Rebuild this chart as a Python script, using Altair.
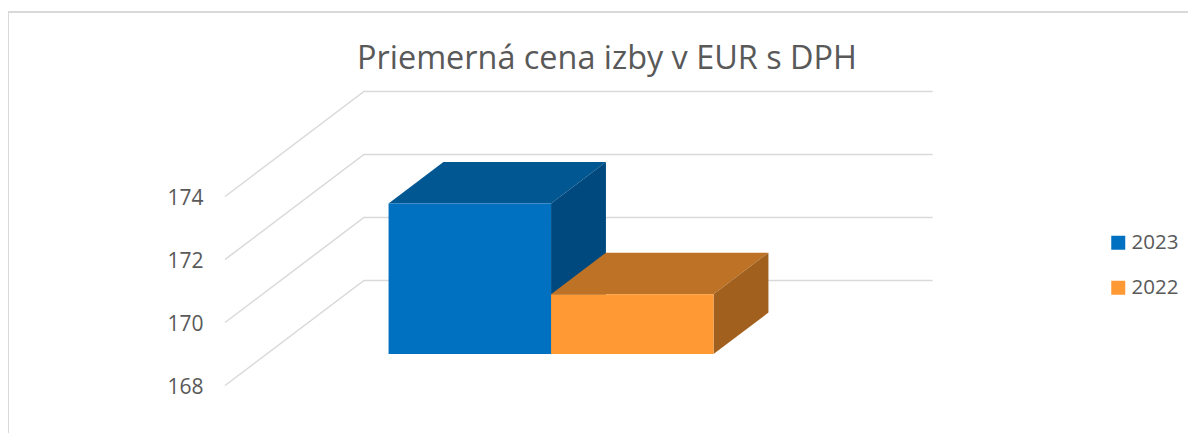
import altair as alt
import pandas as pd

title = "Priemerná cena izby v EUR s DPH"
series = ["2023", "2022"]
values = [172.78, 169.9]
front_colors = ["#0070C0", "#FF9933"]
top_colors = ["#005792", "#BE7225"]
side_colors = ["#00497E", "#A1601E"]
ticks = [168, 170, 172, 174]

# Oblique 3D geometry, in axis units
depth_dx = 0.855      # category units for the whole floor depth
depth_dy = 3.333      # value units for the whole floor depth
gap = 0.75            # gap before the first bar, in bar widths
bar_front = 0.3       # bar front, as a share of the floor depth
bar_back = 0.695      # bar back, as a share of the floor depth
floor_width = 3.5

FONT = "Open Sans"
TEXT = "#595959"
GRID = "#D9D9D9"

x_scale = alt.Scale(domain=[-0.11077, 4.35692], nice=False, zero=False)
y_scale = alt.Scale(domain=[168, 174], nice=False, zero=False)
y_axis = alt.Axis(
    values=ticks, domain=False, ticks=False, grid=False, title=None,
    labelPadding=4, labelFont=FONT, labelFontSize=21, labelColor=TEXT,
    labelOffset=1.5, format="d",
)
X = alt.X("x:Q", scale=x_scale, axis=None)
Y = alt.Y("y:Q", scale=y_scale, stack=None, axis=y_axis)

# Gridlines on the floor-side wall and the back wall
grid_rows = []
for t in ticks:
    grid_rows += [
        {"t": t, "i": 0, "x": 0, "y": t},
        {"t": t, "i": 1, "x": depth_dx, "y": t + depth_dy},
        {"t": t, "i": 2, "x": floor_width + depth_dx, "y": t + depth_dy},
    ]
layers = [
    alt.Chart(pd.DataFrame(grid_rows)).mark_line(color=GRID, strokeWidth=1.5).encode(
        x=X, y=Y, detail="t:N", order="i:Q"
    )
]

dx0 = bar_front * depth_dx
dy0 = bar_front * depth_dy
dx = (bar_back - bar_front) * depth_dx
dy = (bar_back - bar_front) * depth_dy
floor_y = 168 + dy0

for k, (name, value) in enumerate(zip(series, values)):
    left = gap + k + dx0
    right = left + 1
    top = value + dy0
    top_face = pd.DataFrame(
        [
            {"y": top, "x": left, "x2": right},
            {"y": top + dy, "x": left + dx, "x2": right + dx},
        ]
    )
    side_face = pd.DataFrame(
        [
            {"x": right, "y": floor_y, "y2": top},
            {"x": right + dx, "y": floor_y + dy, "y2": top + dy},
        ]
    )
    front_face = pd.DataFrame(
        [{"series": name, "x": left, "x2": right, "y": floor_y, "y2": top}]
    )
    layers.append(
        alt.Chart(top_face).mark_area(orient="horizontal", color=top_colors[k]).encode(
            y=Y, x=X, x2="x2:Q"
        )
    )
    layers.append(
        alt.Chart(side_face).mark_area(orient="vertical", color=side_colors[k]).encode(
            x=X, y=Y, y2="y2:Q"
        )
    )
    layers.append(
        alt.Chart(front_face).mark_rect().encode(
            x=X,
            x2="x2:Q",
            y=Y,
            y2="y2:Q",
            color=alt.Color(
                "series:N",
                scale=alt.Scale(domain=series, range=front_colors),
                legend=alt.Legend(
                    title=None, orient="none", legendX=901, legendY=36,
                    symbolType="square", symbolSize=196, symbolStrokeWidth=0,
                    labelFont=FONT, labelFontSize=20.5, labelColor=TEXT,
                    labelOffset=3, rowPadding=24, labelLimit=100,
                ),
            ),
        )
    )

# Chart-area border (left and top sides reach the picture's edge)
border_left = alt.Chart(pd.DataFrame({"a": [0]})).mark_rule(color=GRID, strokeWidth=2).encode(
    x=alt.value(-199), y=alt.value(-185), y2=alt.value(237)
)
border_top = alt.Chart(pd.DataFrame({"a": [0]})).mark_rule(color=GRID, strokeWidth=2).encode(
    x=alt.value(-199), x2=alt.value(981), y=alt.value(-184.5)
)

chart = (
    alt.layer(border_left, border_top, *layers)
    .resolve_scale(x="shared", y="shared", color="shared")
    .properties(
        width=726,
        height=189,
        autosize=alt.AutoSizeParams(type="none"),
        padding={"left": 199, "top": 188.5, "right": 255, "bottom": 47.5},
        title=alt.TitleParams(
            title, font=FONT, fontSize=32.4, fontWeight="normal", color=TEXT,
            anchor="middle", frame="group", offset=-65, dx=37,
        ),
        background="white",
    )
    .configure_view(stroke=None)
)

chart.save("out.html", embed_options={"renderer": "svg", "actions": False})
